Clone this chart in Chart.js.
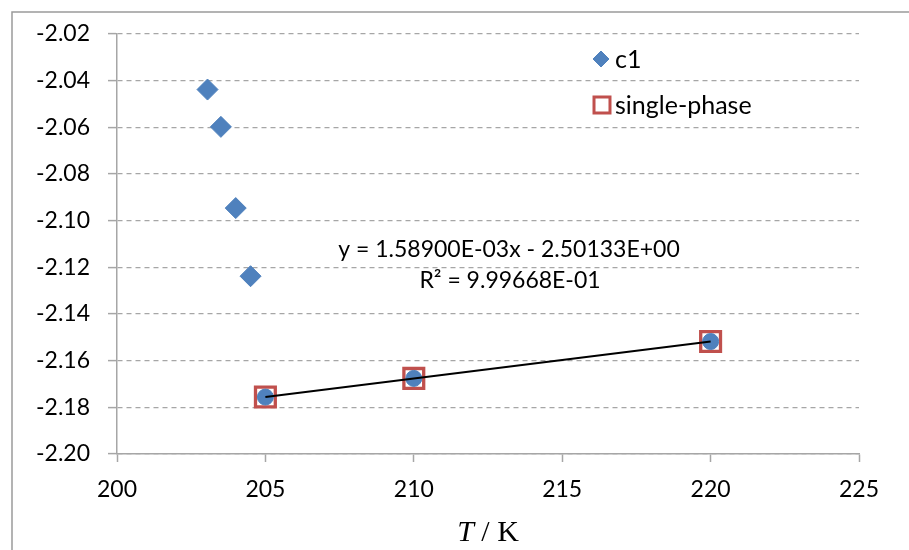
<!DOCTYPE html>
<html>
<head>
<meta charset="utf-8">
<script src="https://cdn.jsdelivr.net/npm/chart.js@4/dist/chart.umd.min.js"></script>
<style>
  html, body { margin: 0; padding: 0; background: #fff; }
  canvas { display: block; }
</style>
</head>
<body>
<canvas id="myChart" width="909" height="550"></canvas>
<script>
// c1 branch, the last three points sit on the single-phase line
const c1Temps = [203.05, 203.5, 204.0, 204.5, 205, 210, 220];
const c1Values = [-2.0438, -2.0598, -2.0946, -2.1238, -2.1756, -2.1676, -2.1518];
const c1Styles = ['rectRot', 'rectRot', 'rectRot', 'rectRot', 'circle', 'circle', 'circle'];

const singleTemps = [205, 210, 220];
const singleValues = [-2.1756, -2.1676, -2.1518];

// linear fit through the single-phase points
const fitSlope = 1.58900E-03;
const fitIntercept = -2.50133E+00;
const fitR2 = 9.99668E-01;
const fitRange = [205, 220];

const xTicks = [200, 205, 210, 215, 220, 225];
const yTicks = [-2.20, -2.18, -2.16, -2.14, -2.12, -2.10, -2.08, -2.06, -2.04, -2.02];

const BLUE = '#4f81bd';
const RED = '#c0504d';
const GREY = '#a6a6a6';
const FONT = 'Lato, "Open Sans", sans-serif';

const fitLabel = 'y = ' + fitSlope.toExponential(5).replace('e-', 'E-0') + 'x - ' +
  Math.abs(fitIntercept).toExponential(5).replace('e+', 'E+0');
const r2Label = 'R\u00b2 = ' + fitR2.toExponential(5).replace('e-', 'E-0');

const framePlugin = {
  id: 'frame',
  beforeDraw(chart) {
    const ctx = chart.ctx;
    ctx.save();
    ctx.fillStyle = '#fff';
    ctx.fillRect(0, 0, chart.width, chart.height);
    ctx.strokeStyle = '#9a9a9a';
    ctx.lineWidth = 1.5;
    ctx.strokeRect(12, 12, chart.width + 20, chart.height + 20);
    ctx.restore();
  },
  afterDraw(chart) {
    const ctx = chart.ctx;
    const area = chart.chartArea;
    ctx.save();

    // legend
    ctx.textBaseline = 'middle';
    ctx.textAlign = 'left';
    ctx.fillStyle = BLUE;
    ctx.strokeStyle = BLUE;
    ctx.lineWidth = 1;
    Chart.helpers.drawPoint(ctx, {pointStyle: 'rectRot', radius: 8, rotation: 0, borderWidth: 1}, 601, 59);
    ctx.fillStyle = '#fff';
    ctx.strokeStyle = RED;
    ctx.lineWidth = 3;
    Chart.helpers.drawPoint(ctx, {pointStyle: 'rect', radius: 11.3, rotation: 0, borderWidth: 3}, 602, 105);
    ctx.fillStyle = '#000';
    ctx.font = '25px ' + FONT;
    ctx.fillText('c1', 615, 60);
    ctx.fillText('single-phase', 615, 106);

    // trendline equation
    ctx.font = '23px ' + FONT;
    ctx.textAlign = 'center';
    ctx.fillText(fitLabel, 509, 250);
    ctx.fillText(r2Label, 510, 281);

    // axis title: italic T, upright "/ K"
    const cx = (area.left + area.right) / 2;
    const base = 541;
    ctx.textBaseline = 'alphabetic';
    ctx.textAlign = 'left';
    ctx.font = 'italic 30px "Liberation Serif", serif';
    const wT = ctx.measureText('T').width;
    ctx.font = '30px "Liberation Serif", serif';
    const wRest = ctx.measureText(' / K').width;
    const x0 = cx - (wT + wRest) / 2;
    ctx.font = 'italic 30px "Liberation Serif", serif';
    ctx.fillText('T', x0, base);
    ctx.font = '30px "Liberation Serif", serif';
    ctx.fillText(' / K', x0 + wT, base);

    ctx.restore();
  }
};

const fitPoints = fitRange.map(t => ({x: t, y: fitSlope * t + fitIntercept}));

new Chart(document.getElementById('myChart'), {
  type: 'scatter',
  data: {
    datasets: [
      {
        label: 'Linear (single-phase)',
        data: fitPoints,
        showLine: true,
        borderColor: '#000',
        borderWidth: 2,
        pointRadius: 0,
        fill: false
      },
      {
        label: 'c1',
        data: c1Temps.map((t, i) => ({x: t, y: c1Values[i]})),
        pointStyle: c1Styles,
        pointRadius: c1Styles.map(s => s === 'circle' ? 8 : 10.5),
        pointBackgroundColor: BLUE,
        pointBorderColor: BLUE,
        pointBorderWidth: 1
      },
      {
        label: 'single-phase',
        data: singleTemps.map((t, i) => ({x: t, y: singleValues[i]})),
        pointStyle: 'rect',
        pointRadius: 14,
        pointBackgroundColor: '#fff',
        pointBorderColor: RED,
        pointBorderWidth: 3.3
      }
    ]
  },
  options: {
    responsive: false,
    animation: false,
    layout: { padding: { top: 34, right: 50, left: 0, bottom: 0 } },
    plugins: {
      legend: { display: false },
      tooltip: { enabled: false }
    },
    scales: {
      x: {
        type: 'linear',
        min: 200,
        max: 225,
        afterBuildTicks: s => { s.ticks = xTicks.map(v => ({value: v})); },
        afterFit: s => { s.height = 96; },
        grid: {
          drawOnChartArea: false,
          drawTicks: true,
          tickLength: 8,
          tickColor: GREY,
          tickWidth: 1.5
        },
        border: { color: GREY, width: 1.5 },
        ticks: {
          color: '#000',
          font: { family: FONT, size: 23 },
          padding: 14,
          maxRotation: 0
        }
      },
      y: {
        min: -2.20,
        max: -2.02,
        afterBuildTicks: s => { s.ticks = yTicks.map(v => ({value: v})); },
        afterFit: s => { s.width = 117; },
        grid: {
          color: GREY,
          lineWidth: 1.2,
          drawTicks: true,
          tickLength: 9,
          tickColor: GREY,
          tickWidth: 1.5,
          tickBorderDash: []
        },
        border: { color: GREY, width: 1.5, dash: [5, 4] },
        ticks: {
          color: '#000',
          font: { family: FONT, size: 23 },
          padding: 18,
          callback: v => v.toFixed(2)
        }
      }
    }
  },
  plugins: [framePlugin]
});
</script>
</body>
</html>
